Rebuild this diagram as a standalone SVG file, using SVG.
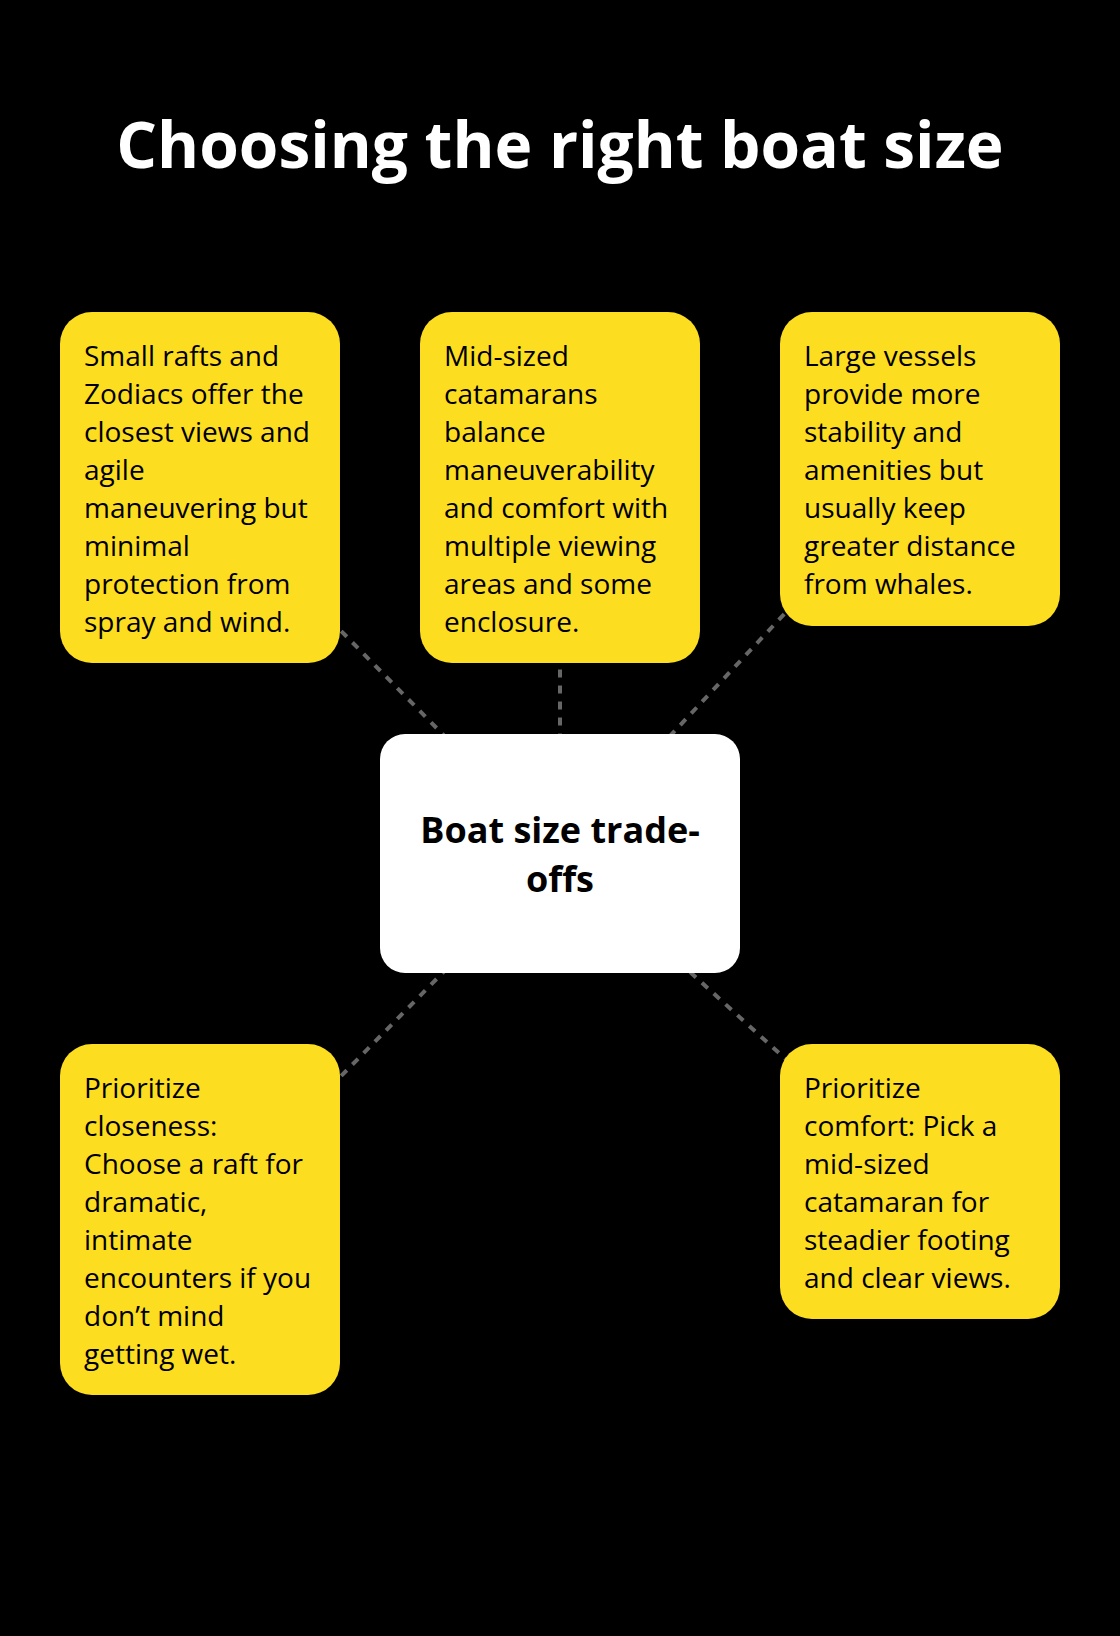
<svg xmlns="http://www.w3.org/2000/svg" width="1120" height="1636" viewBox="0 0 1120 1636">
<style>
.bg{fill:#000}
.card{fill:#FDDD20}
.hub{fill:#fff}
.t{font-family:"Open Sans","Liberation Sans",sans-serif;font-size:28px;fill:#000}
.h{font-family:"Open Sans","Liberation Sans",sans-serif;font-size:36px;font-weight:700;fill:#000;text-anchor:middle}
.title{font-family:"Open Sans","Liberation Sans",sans-serif;font-size:64px;font-weight:700;fill:#fff;text-anchor:middle}
.c{stroke:#666;stroke-width:4;stroke-dasharray:8 8;fill:none}
</style>
<rect class="bg" x="0" y="0" width="1120" height="1636"/>
<text class="title" x="560" y="168">Choosing the right boat size</text>
<g id="connectors">
<line class="c" x1="560" y1="853.5" x2="200" y2="487.5"/>
<line class="c" x1="560" y1="853.5" x2="560" y2="487.5"/>
<line class="c" x1="560" y1="853.5" x2="920" y2="469"/>
<line class="c" x1="560" y1="853.5" x2="200" y2="1219.5"/>
<line class="c" x1="560" y1="853.5" x2="920" y2="1181.5"/>
</g>
<g id="small-rafts">
<rect class="card" x="60" y="312" width="280" height="351" rx="32"/>
<text class="t" x="84" y="366">Small rafts and</text>
<text class="t" x="84" y="404">Zodiacs offer the</text>
<text class="t" x="84" y="442">closest views and</text>
<text class="t" x="84" y="480">agile</text>
<text class="t" x="84" y="518">maneuvering but</text>
<text class="t" x="84" y="556">minimal</text>
<text class="t" x="84" y="594">protection from</text>
<text class="t" x="84" y="632">spray and wind.</text>
</g>
<g id="mid-catamarans">
<rect class="card" x="420" y="312" width="280" height="351" rx="32"/>
<text class="t" x="444" y="366">Mid-sized</text>
<text class="t" x="444" y="404">catamarans</text>
<text class="t" x="444" y="442">balance</text>
<text class="t" x="444" y="480">maneuverability</text>
<text class="t" x="444" y="518">and comfort with</text>
<text class="t" x="444" y="556">multiple viewing</text>
<text class="t" x="444" y="594">areas and some</text>
<text class="t" x="444" y="632">enclosure.</text>
</g>
<g id="large-vessels">
<rect class="card" x="780" y="312" width="280" height="314" rx="32"/>
<text class="t" x="804" y="366">Large vessels</text>
<text class="t" x="804" y="404">provide more</text>
<text class="t" x="804" y="442">stability and</text>
<text class="t" x="804" y="480">amenities but</text>
<text class="t" x="804" y="518">usually keep</text>
<text class="t" x="804" y="556">greater distance</text>
<text class="t" x="804" y="594">from whales.</text>
</g>
<g id="hub">
<rect class="hub" x="380" y="734" width="360" height="239" rx="25"/>
<text class="h" x="560" y="843">Boat size trade-</text>
<text class="h" x="560" y="892">offs</text>
</g>
<g id="closeness">
<rect class="card" x="60" y="1044" width="280" height="351" rx="32"/>
<text class="t" x="84" y="1098">Prioritize</text>
<text class="t" x="84" y="1136">closeness:</text>
<text class="t" x="84" y="1174">Choose a raft for</text>
<text class="t" x="84" y="1212">dramatic,</text>
<text class="t" x="84" y="1250">intimate</text>
<text class="t" x="84" y="1288">encounters if you</text>
<text class="t" x="84" y="1326">don’t mind</text>
<text class="t" x="84" y="1364">getting wet.</text>
</g>
<g id="comfort">
<rect class="card" x="780" y="1044" width="280" height="275" rx="32"/>
<text class="t" x="804" y="1098">Prioritize</text>
<text class="t" x="804" y="1136">comfort: Pick a</text>
<text class="t" x="804" y="1174">mid-sized</text>
<text class="t" x="804" y="1212">catamaran for</text>
<text class="t" x="804" y="1250">steadier footing</text>
<text class="t" x="804" y="1288">and clear views.</text>
</g>
</svg>
